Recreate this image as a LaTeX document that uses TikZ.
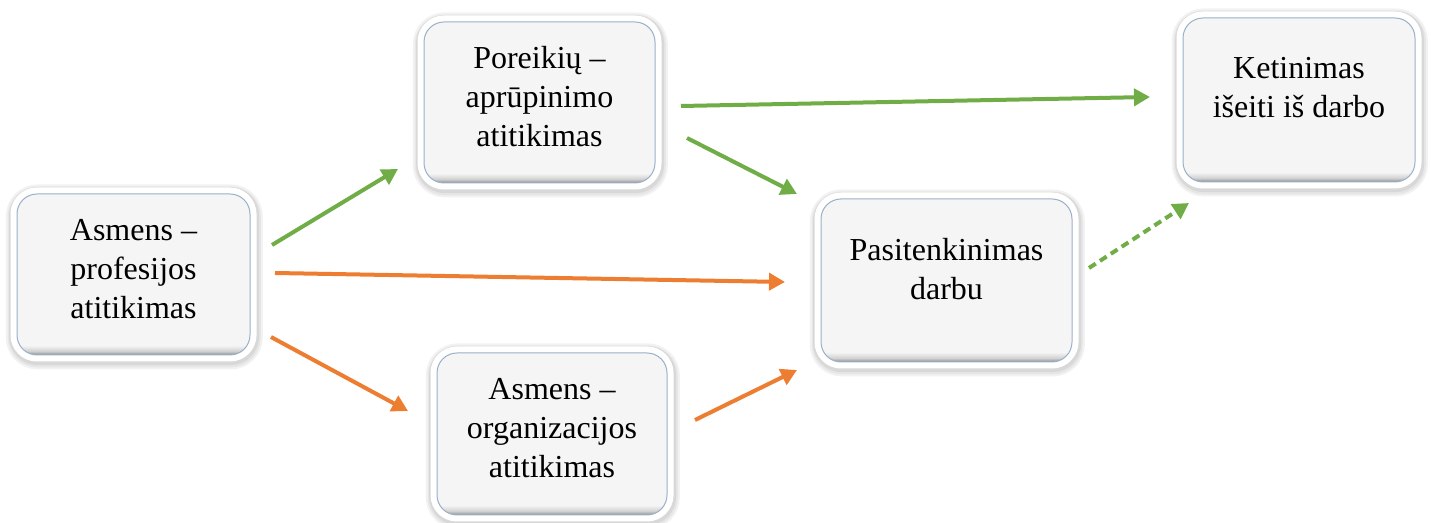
\documentclass[tikz,border=0pt]{standalone}
\usepackage{fontspec}
\setmainfont{Liberation Serif}
\usetikzlibrary{arrows.meta}
\definecolor{fgreen}{HTML}{70AD47}
\definecolor{forange}{HTML}{ED7D31}
\definecolor{fedge}{HTML}{9AB0CA}
\definecolor{fin}{HTML}{F5F5F5}
\colorlet{fsha}{black!45}
\colorlet{fshb}{black!18}
\pgfdeclareverticalshading{boxshade}{100bp}{color(0bp)=(fsha); color(25bp)=(fsha); color(26.2bp)=(fshb); color(28bp)=(fin); color(100bp)=(fin)}
\tikzset{
  card/.style={rectangle, rounded corners=10pt, inner sep=0pt, draw=fedge, line width=0.5pt,
    shade, shading=boxshade,
    preaction={draw=black, draw opacity=0.05, line width=12pt, transform canvas={xshift=0.4pt,yshift=-1.2pt}},
    preaction={draw=black, draw opacity=0.05, line width=10pt, transform canvas={xshift=0.4pt,yshift=-1.2pt}},
    preaction={draw=black, draw opacity=0.06, line width=8.5pt, transform canvas={xshift=0.3pt,yshift=-0.8pt}},
    preaction={draw=white, line width=6.5pt}},
  lbl/.style={align=center, font=\fontsize{16pt}{19.5pt}\selectfont, inner sep=0pt},
  conn/.style={line width=2pt, -{Triangle[length=8pt,width=8.5pt]}},
  gconn/.style={conn, draw=fgreen},
  oconn/.style={conn, draw=forange},
  dconn/.style={gconn, dash pattern=on 4pt off 2.5pt}
}
\begin{document}
\begin{tikzpicture}[x=0.5pt, y=-0.5pt]
\useasboundingbox (0,0) rectangle (1431,523);
% boxes
\node[card, minimum width=116.5pt, minimum height=80.5pt] (b1) at (133.5,274.5) {};
\node[card, minimum width=115.5pt, minimum height=80.5pt] (b2) at (539.5,102.5) {};
\node[card, minimum width=115pt, minimum height=81pt] (b3) at (552,434) {};
\node[card, minimum width=125.5pt, minimum height=81.5pt] (b4) at (946.5,280.5) {};
\node[card, minimum width=116pt, minimum height=82pt] (b5) at (1299,100) {};
% texts (anchored at the baseline of the last line)
\node[lbl, anchor=base] (t1) at (133.5,319) {Asmens –\\profesijos\\atitikimas};
\node[lbl, anchor=base] (t2) at (539.5,147) {Poreikių –\\aprūpinimo\\atitikimas};
\node[lbl, anchor=base] (t3) at (552,478) {Asmens –\\organizacijos\\atitikimas};
\node[lbl, anchor=base] (t4) at (946.5,300) {Pasitenkinimas\\darbu};
\node[lbl, anchor=base] (t5) at (1299,118) {Ketinimas\\išeiti iš darbo};
% connector end points
\coordinate (s1) at (272,245);  \coordinate (e1) at (398,169);
\coordinate (s2) at (275,273);  \coordinate (e2) at (785,282);
\coordinate (s3) at (271,337);  \coordinate (e3) at (408,411);
\coordinate (s4) at (681,106);  \coordinate (e4) at (1150,97);
\coordinate (s5) at (687,138);  \coordinate (e5) at (797,194);
\coordinate (s6) at (695,420);  \coordinate (e6) at (797,370);
\coordinate (s7) at (1089,268); \coordinate (e7) at (1189,203);
% connectors
\draw[gconn] (s1) -- (e1);
\draw[oconn] (s2) -- (e2);
\draw[oconn] (s3) -- (e3);
\draw[gconn] (s4) -- (e4);
\draw[gconn] (s5) -- (e5);
\draw[oconn] (s6) -- (e6);
\draw[dconn] (s7) -- (e7);
\end{tikzpicture}
\end{document}
